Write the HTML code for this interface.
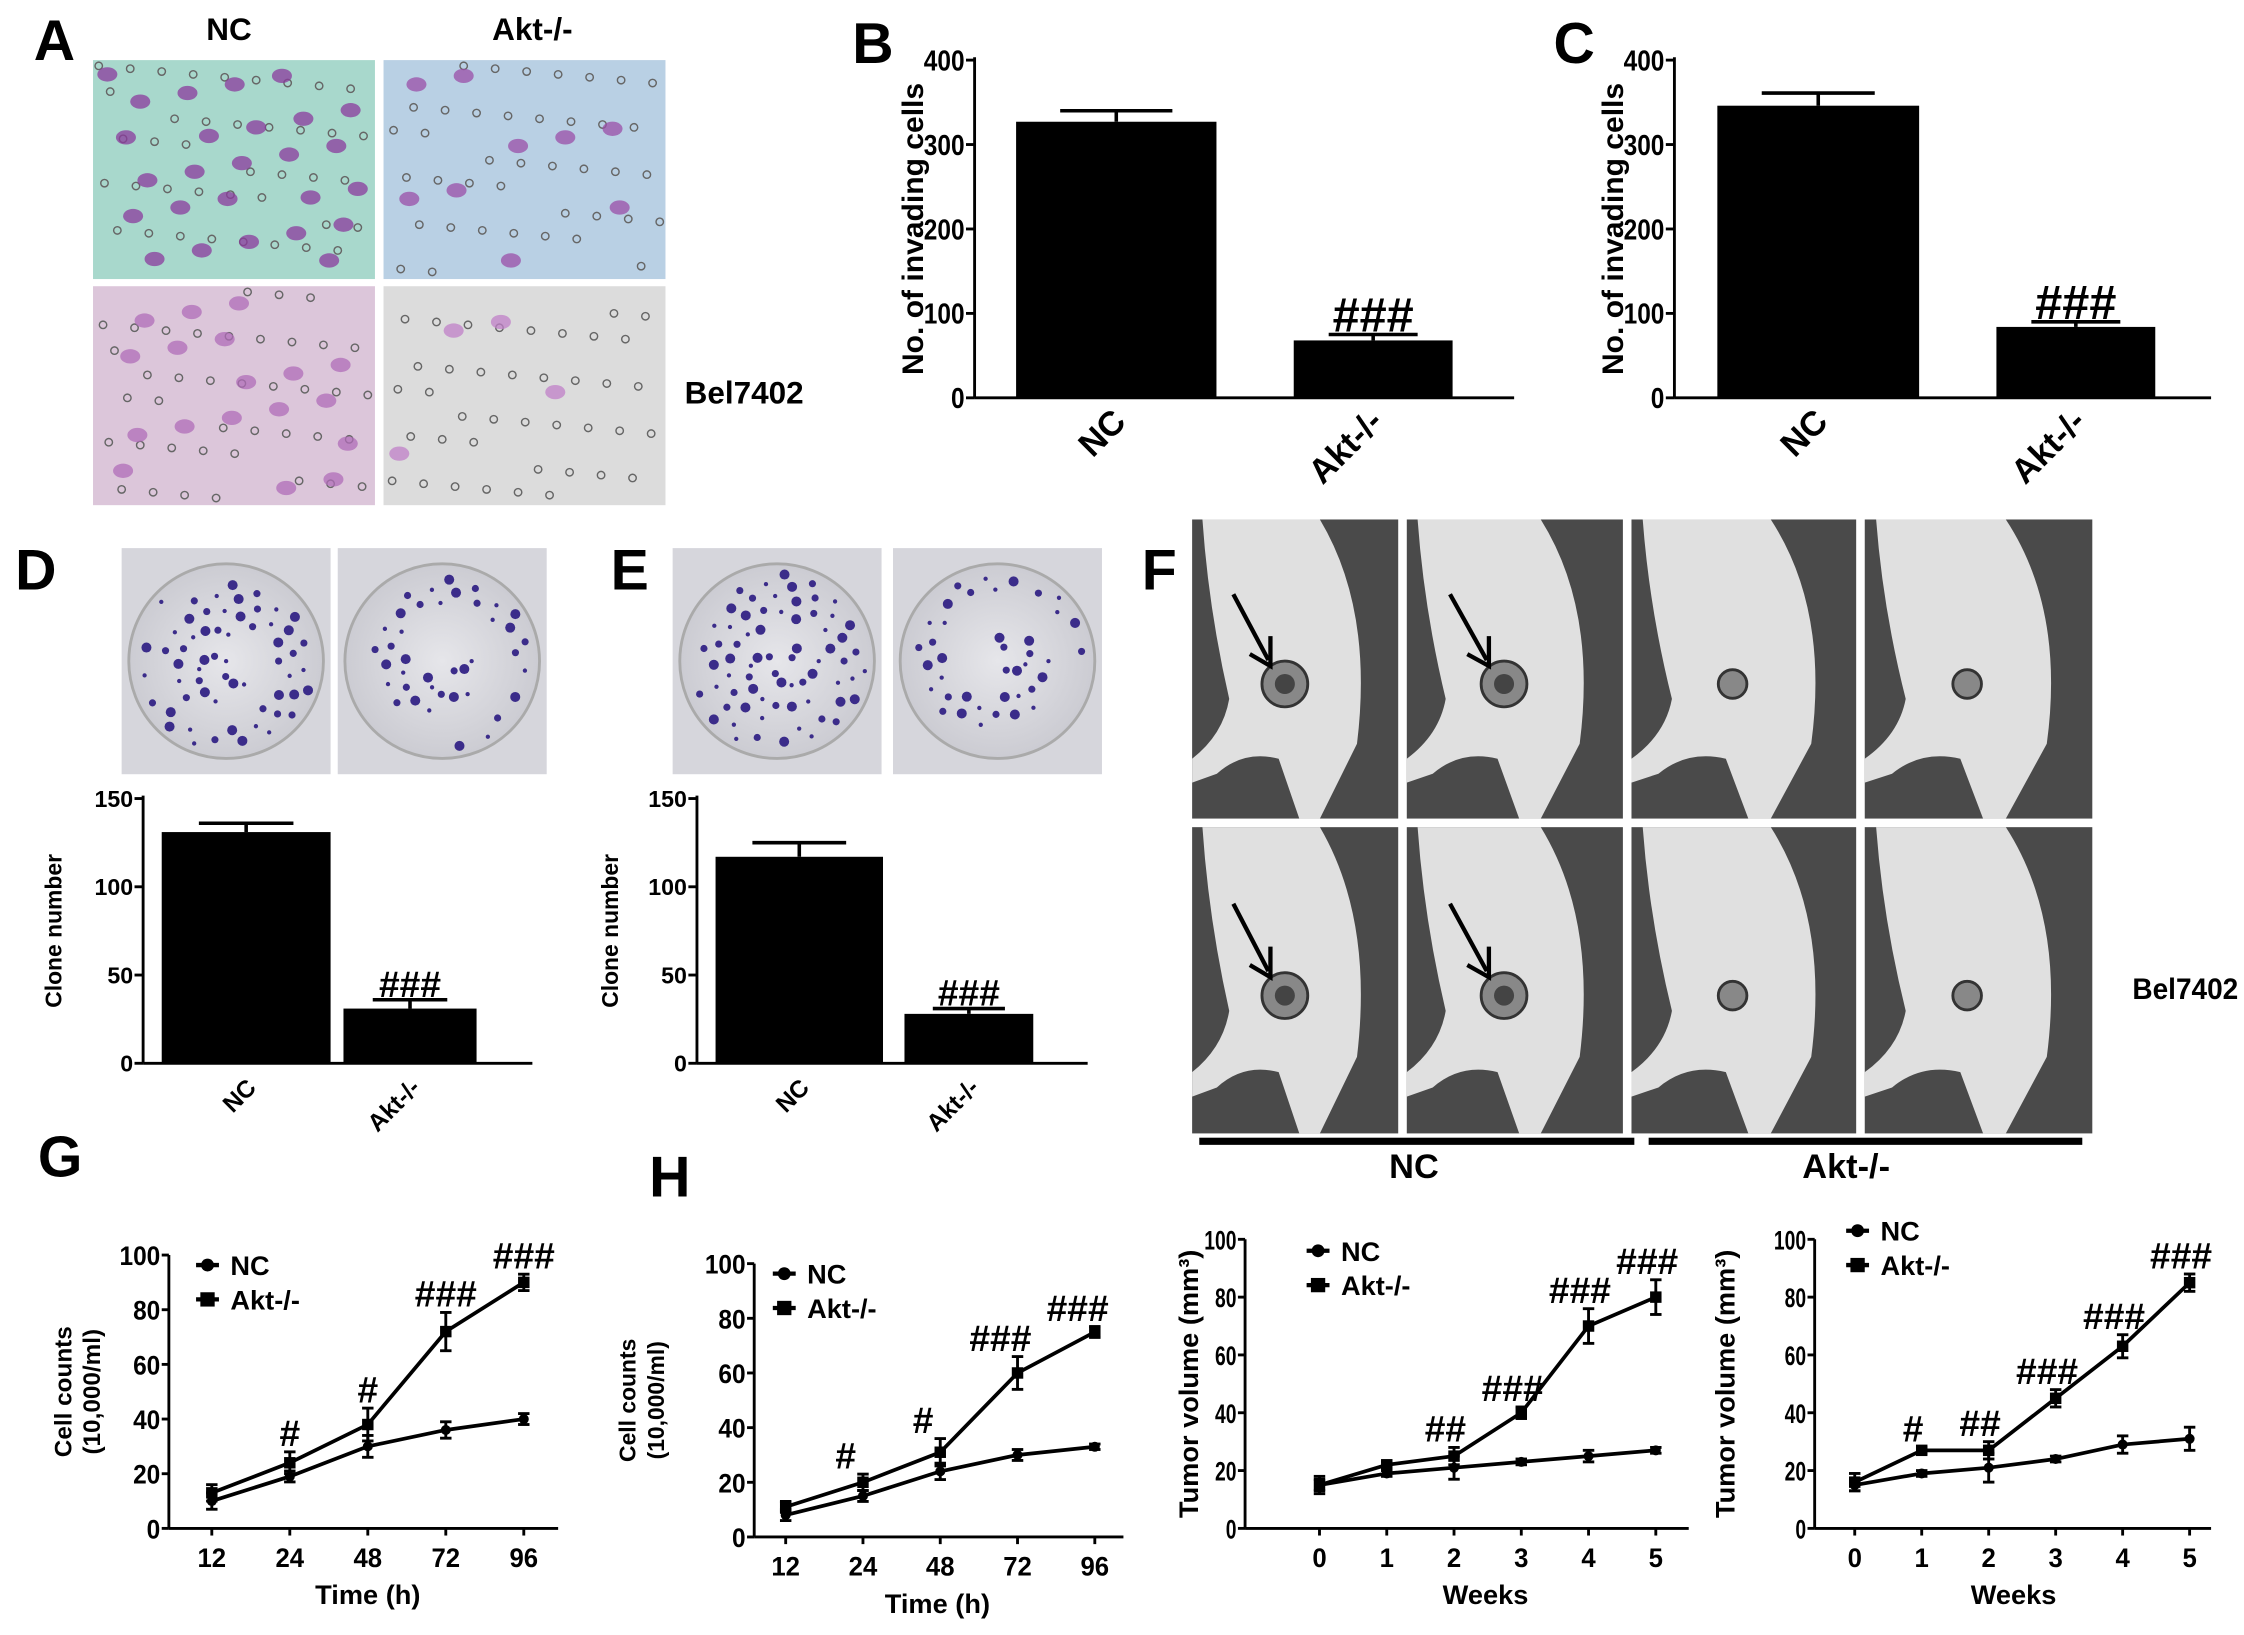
<!DOCTYPE html>
<html><head><meta charset="utf-8"><style>
html,body{margin:0;padding:0;background:#fff}
svg{display:block}
text{font-family:"Liberation Sans",Arial,sans-serif;font-weight:bold;fill:#000}
</style></head><body>
<svg id="fig" xmlns="http://www.w3.org/2000/svg" width="2244" height="1635" viewBox="0 0 1568 1142.5" preserveAspectRatio="none">
<defs>
<radialGradient id="dish" cx="50%" cy="50%" r="55%"><stop offset="0" stop-color="#e6e6ea"/><stop offset="1" stop-color="#c9c9d0"/></radialGradient>
</defs>
<g id="root"></g>
</svg>
<script>
// ===== Data =====
const barCats = ["NC", "Akt-/-"];
const bValues = [327, 68];
const bErrors = [13, 7];
const cValues = [346, 84];
const cErrors = [15, 6];
const dValues = [131, 31];
const dErrors = [5, 5];
const eValues = [117, 28];
const eErrors = [8, 3];
const invadeTicks = [0, 100, 200, 300, 400];
const cloneTicks = [0, 50, 100, 150];

const timeCats = ["12", "24", "48", "72", "96"];
const gUpper = [13, 24, 38, 72, 90];
const gUpperErr = [3, 4, 6, 7, 3];
const gLower = [10, 19, 30, 36, 40];
const gLowerErr = [3, 2, 4, 3, 2];
const gMarks = ["", "#", "#", "###", "###"];
const hUpper = [11, 20, 31, 60, 75];
const hUpperErr = [2, 3, 5, 6, 2];
const hLower = [8, 15, 24, 30, 33];
const hLowerErr = [2, 2, 3, 2, 1];
const hMarks = ["", "#", "#", "###", "###"];
const weekCats = ["0", "1", "2", "3", "4", "5"];
const t1Upper = [15, 22, 25, 40, 70, 80];
const t1UpperErr = [3, 1, 3, 2, 6, 6];
const t1Lower = [15, 19, 21, 23, 25, 27];
const t1LowerErr = [2, 1, 4, 1, 2, 1];
const t1Marks = ["", "", "##", "###", "###", "###"];
const t2Upper = [16, 27, 27, 45, 63, 85];
const t2UpperErr = [3, 1, 3, 3, 4, 3];
const t2Lower = [15, 19, 21, 24, 29, 31];
const t2LowerErr = [2, 1, 5, 1, 3, 4];
const t2Marks = ["", "#", "##", "###", "###", "###"];
const countTicks = [0, 20, 40, 60, 80, 100];

// ===== helpers =====
const NS = "http://www.w3.org/2000/svg";
const root = document.getElementById("root");
function mk(tag, attrs, parent, txt) {
  const e = document.createElementNS(NS, tag);
  for (const k in attrs) e.setAttribute(k, attrs[k]);
  if (txt !== undefined) e.textContent = txt;
  (parent || root).appendChild(e);
  return e;
}
function label(x, y, t, size, name, extra) {
  const e = mk("text", Object.assign({x: x, y: y, "font-size": size, "text-anchor": "middle"}, extra || {}), root, t);
  
  
  return e;
}

// panel letters
[["A",38,42],["B",610,44],["C",1100,44],["D",25,412],["E",440,412],["F",810,412],["G",42,822],["H",468,836]].forEach(p => {
  label(p[1], p[2], p[0], 40, "panel-label-" + p[0].toLowerCase(), {"font-family": "DejaVu Sans, sans-serif"});
});

// ===== Bar charts =====
function barChart(o) {
  const g = mk("g", {});
  
  
  const y = v => o.y0 - (v / o.max) * (o.y0 - o.yTop);
  mk("line", {x1: o.ax, y1: o.yTop - 2, x2: o.ax, y2: o.y0, stroke: "#000", "stroke-width": 2}, g);
  mk("line", {x1: o.ax, y1: o.y0, x2: o.xEnd, y2: o.y0, stroke: "#000", "stroke-width": 2}, g);
  o.ticks.forEach(t => {
    mk("line", {x1: o.ax - 6, y1: y(t), x2: o.ax, y2: y(t), stroke: "#000", "stroke-width": 2}, g);
    const tl = mk("text", {x: o.ax - 7, y: y(t) + o.fs * 0.36, "font-size": o.fs, "text-anchor": "end", textLength: String(t).length * o.cw, lengthAdjust: "spacingAndGlyphs"}, g, t);
    
    
  });
  o.values.forEach((v, i) => {
    const [x1, x2] = o.bars[i];
    const b = mk("rect", {x: x1, y: y(v), width: x2 - x1, height: o.y0 - y(v), fill: "#000"}, g);
    
    
    const cx = (x1 + x2) / 2, w = (x2 - x1) * 0.28;
    mk("line", {x1: cx, y1: y(v), x2: cx, y2: y(v + o.errs[i]), stroke: "#000", "stroke-width": 2.5}, g);
    mk("line", {x1: cx - w, y1: y(v + o.errs[i]), x2: cx + w, y2: y(v + o.errs[i]), stroke: "#000", "stroke-width": 2.5}, g);
    const xl = mk("text", {x: 0, y: 0, "font-size": o.xfs, "text-anchor": "end", transform: `translate(${cx + 8},${o.y0 + 18}) rotate(-45)`}, g, barCats[i]);
    
    
  });
  const cx2 = (o.bars[1][0] + o.bars[1][1]) / 2;
  const hm = mk("text", {x: cx2, y: y(o.values[1] + o.errs[1]) - 2, "font-size": o.hfs, "text-anchor": "middle", "font-family": "Liberation Serif, serif", "font-weight": "normal"}, g, "###");
  
  
  const yl = mk("text", {x: 0, y: 0, "font-size": o.yfs, "text-anchor": "middle", transform: `translate(${o.ylx},${(o.yTop + o.y0) / 2}) rotate(-90)`}, g, o.ytitle);
  
  
}
barChart({name: "chart-b", ax: 681, y0: 278, yTop: 42, max: 400, xEnd: 1058, ticks: invadeTicks, values: bValues, errs: bErrors, bars: [[710, 850], [904, 1015]], fs: 20, cw: 9.5, xfs: 24, hfs: 34, yfs: 21, ylx: 645, ytitle: "No. of invading cells"});
barChart({name: "chart-c", ax: 1170, y0: 278, yTop: 42, max: 400, xEnd: 1545, ticks: invadeTicks, values: cValues, errs: cErrors, bars: [[1200, 1341], [1395, 1506]], fs: 20, cw: 9.5, xfs: 24, hfs: 34, yfs: 21, ylx: 1134, ytitle: "No. of invading cells"});
barChart({name: "chart-d", ax: 100, y0: 743, yTop: 558, max: 150, xEnd: 372, ticks: cloneTicks, values: dValues, errs: dErrors, bars: [[113, 231], [240, 333]], fs: 16, cw: 9, xfs: 17, hfs: 26, yfs: 16, ylx: 43, ytitle: "Clone number"});
barChart({name: "chart-e", ax: 487, y0: 743, yTop: 558, max: 150, xEnd: 760, ticks: cloneTicks, values: eValues, errs: eErrors, bars: [[500, 617], [632, 722]], fs: 16, cw: 9, xfs: 17, hfs: 26, yfs: 16, ylx: 432, ytitle: "Clone number"});

// ===== Line charts =====
function lineChart(o) {
  const g = mk("g", {});
  
  
  const y = v => o.y0 - (v / 100) * (o.y0 - o.yTop);
  const x = i => o.xs0 + i * o.dx;
  mk("line", {x1: o.ax, y1: o.yTop, x2: o.ax, y2: o.y0, stroke: "#000", "stroke-width": 2}, g);
  mk("line", {x1: o.ax, y1: o.y0, x2: o.xEnd, y2: o.y0, stroke: "#000", "stroke-width": 2}, g);
  countTicks.forEach(t => {
    mk("line", {x1: o.ax - 5, y1: y(t), x2: o.ax, y2: y(t), stroke: "#000", "stroke-width": 2}, g);
    const tl = mk("text", {x: o.ax - 6, y: y(t) + 7, "font-size": 19, "text-anchor": "end", "textLength": String(t).length * (o.tcw || 9.5), lengthAdjust: "spacingAndGlyphs"}, g, t);
    
    
  });
  o.cats.forEach((c, i) => {
    mk("line", {x1: x(i), y1: o.y0, x2: x(i), y2: o.y0 + 5, stroke: "#000", "stroke-width": 2}, g);
    const tl = mk("text", {x: x(i), y: o.y0 + 27, "font-size": 19, "text-anchor": "middle", "textLength": c.length * 10, lengthAdjust: "spacingAndGlyphs"}, g, c);
    
    
  });
  [[o.lower, o.lowerErr, "circle", "series-nc"], [o.upper, o.upperErr, "square", "series-akt"]].forEach(s => {
    const pts = s[0].map((v, i) => x(i) + "," + y(v)).join(" ");
    const pl = mk("polyline", {points: pts, fill: "none", stroke: "#000", "stroke-width": 2.6}, g);
    
    
    s[0].forEach((v, i) => {
      const e = s[1][i];
      mk("line", {x1: x(i), y1: y(v - e), x2: x(i), y2: y(v + e), stroke: "#000", "stroke-width": 2}, g);
      mk("line", {x1: x(i) - 4, y1: y(v - e), x2: x(i) + 4, y2: y(v - e), stroke: "#000", "stroke-width": 2}, g);
      mk("line", {x1: x(i) - 4, y1: y(v + e), x2: x(i) + 4, y2: y(v + e), stroke: "#000", "stroke-width": 2}, g);
      const m = s[2] === "circle" ? mk("circle", {cx: x(i), cy: y(v), r: 3.5, fill: "#000"}, g)
                                  : mk("rect", {x: x(i) - 4, y: y(v) - 4, width: 8, height: 8, fill: "#000"}, g);
      
      
    });
  });
  o.marks.forEach((t, i) => {
    if (!t) return;
    const hm = mk("text", {x: x(i) - (o.markShift || 0), y: y(o.upper[i] + o.upperErr[i]) - 4, "font-size": 26, "text-anchor": "middle", "font-family": "Liberation Serif, serif", "font-weight": "normal"}, g, t);
    
    
  });
  [["NC", "circle"], ["Akt-/-", "square"]].forEach((l, k) => {
    const ly = o.legY + k * 24;
    mk("line", {x1: o.legX, y1: ly, x2: o.legX + 16, y2: ly, stroke: "#000", "stroke-width": 3}, g);
    if (l[1] === "circle") mk("circle", {cx: o.legX + 8, cy: ly, r: 4.5, fill: "#000"}, g);
    else mk("rect", {x: o.legX + 3, y: ly - 5, width: 10, height: 10, fill: "#000"}, g);
    const lt = mk("text", {x: o.legX + 24, y: ly + 7, "font-size": 19, "font-weight": "normal"}, g, l[0]);
    
    
  });
  const xt = mk("text", {x: o.xtX, y: o.y0 + 53, "font-size": 19, "text-anchor": "middle", "font-weight": "normal"}, g, o.xtitle);
  
  
  o.ytitle.forEach((t, k) => {
    const yt = mk("text", {x: 0, y: 0, "font-size": o.ytfs, "text-anchor": "middle", transform: `translate(${o.ytX + k * 20},${(o.yTop + o.y0) / 2}) rotate(-90)`}, g, t);
    
    
  });
}
lineChart({name: "chart-g", ax: 118, y0: 1068, yTop: 877, xEnd: 390, xs0: 148, dx: 54.5, cats: timeCats, upper: gUpper, upperErr: gUpperErr, lower: gLower, lowerErr: gLowerErr, marks: gMarks, legX: 137, legY: 884, xtX: 257, xtitle: "Time (h)", ytitle: ["Cell counts", "(10,000/ml)"], ytX: 50, ytfs: 17});
lineChart({name: "chart-h", ax: 527, y0: 1074, yTop: 883, xEnd: 785, xs0: 549, dx: 54, cats: timeCats, upper: hUpper, upperErr: hUpperErr, lower: hLower, lowerErr: hLowerErr, marks: hMarks, markShift: 12, legX: 540, legY: 890, xtX: 655, xtitle: "Time (h)", ytitle: ["Cell counts", "(10,000/ml)"], ytX: 444, ytfs: 16});
lineChart({name: "chart-tumor-1", ax: 870, y0: 1068, yTop: 866, xEnd: 1180, xs0: 922, dx: 47, cats: weekCats, upper: t1Upper, upperErr: t1UpperErr, lower: t1Lower, lowerErr: t1LowerErr, marks: t1Marks, markShift: 6, tcw: 7.5, legX: 913, legY: 874, xtX: 1038, xtitle: "Weeks", ytitle: ["Tumor volume (mm³)"], ytX: 837, ytfs: 19});
lineChart({name: "chart-tumor-2", ax: 1268, y0: 1068, yTop: 866, xEnd: 1545, xs0: 1296, dx: 46.8, cats: weekCats, upper: t2Upper, upperErr: t2UpperErr, lower: t2Lower, lowerErr: t2LowerErr, marks: t2Marks, markShift: 6, tcw: 7.5, legX: 1290, legY: 860, xtX: 1407, xtitle: "Weeks", ytitle: ["Tumor volume (mm³)"], ytX: 1212, ytfs: 19});

// ===== Panel A micrographs (decorative) =====
const micro = [[65, 42, "#a8d8cc", "#8b3b9e"], [268, 42, "#b9d0e4", "#9b4fa8"], [65, 200, "#dcc6da", "#b06cb8"], [268, 200, "#dcdcdc", "#c080c8"]];
const blobCounts = [26, 9, 18, 4];
micro.forEach((m, k) => {
  const r = mk("rect", {x: m[0], y: m[1], width: 197, height: 153, fill: m[2]});
  
  
  for (let i = 0; i < 40; i++) {
    const px = m[0] + ((i * 53 + k * 17) % 190) + 4, py = m[1] + ((i * 37 + k * 29) % 146) + 4;
    mk("circle", {cx: px, cy: py, r: 2.6, fill: "none", stroke: "#666", "stroke-width": 1});
  }
  for (let i = 0; i < blobCounts[k]; i++) {
    const px = m[0] + ((i * 71 + k * 13) % 180) + 10, py = m[1] + ((i * 43 + k * 7) % 135) + 10;
    mk("ellipse", {cx: px, cy: py, rx: 7, ry: 5, fill: m[3], opacity: 0.75});
  }
});
label(160, 28, "NC", 22, "column-label-nc");
label(372, 28, "Akt-/-", 22, "column-label-akt");
label(520, 282, "Bel7402", 22, "cell-line-label");

// ===== Dishes D/E =====
const dishes = [[85, 383, 60], [236, 383, 40], [470, 383, 70], [624, 383, 40]];
dishes.forEach((d, k) => {
  const bg = mk("rect", {x: d[0], y: d[1], width: 146, height: 158, fill: "#d6d6dc"});
  
  
  mk("circle", {cx: d[0] + 73, cy: d[1] + 79, r: 68, fill: "url(#dish)", stroke: "#aaa", "stroke-width": 2});
  for (let i = 0; i < d[2]; i++) {
    const a = i * 2.399, rr = 62 * Math.sqrt(((i * 37 + k * 11) % 100) / 100);
    mk("circle", {cx: d[0] + 73 + rr * Math.cos(a), cy: d[1] + 79 + rr * Math.sin(a), r: 1.5 + (i % 3), fill: "#3b2c8a"});
  }
});

// ===== Panel F mice (decorative) =====
const cols = [[833, 977], [983, 1134], [1140, 1297], [1303, 1462]];
const rows = [[363, 572], [578, 792]];
rows.forEach((rw, ri) => cols.forEach((c, ci) => {
  const w = c[1] - c[0], h = rw[1] - rw[0];
  const bg = mk("rect", {x: c[0], y: rw[0], width: w, height: h, fill: "#4a4a4a"});
  
  
  const X = f => c[0] + f * w, Y = f => rw[0] + f * h;
  mk("path", {d: `M${X(0.05)},${Y(0)} L${X(0.62)},${Y(0)} Q${X(0.88)},${Y(0.3)} ${X(0.8)},${Y(0.75)} L${X(0.62)},${Y(1)} L${X(0.52)},${Y(1)} L${X(0.42)},${Y(0.8)} Q${X(0.25)},${Y(0.77)} ${X(0.12)},${Y(0.85)} L${X(0)},${Y(0.88)} L${X(0)},${Y(0.8)} Q${X(0.15)},${Y(0.72)} ${X(0.18)},${Y(0.6)} Q${X(0.08)},${Y(0.3)} ${X(0.05)},${Y(0)} Z`, fill: "#e0e0e0"});
  const big = ci < 2;
  mk("circle", {cx: X(0.45), cy: Y(0.55), r: big ? 16 : 10, fill: "#888", stroke: "#333", "stroke-width": 2});
  if (big) {
    mk("circle", {cx: X(0.45), cy: Y(0.55), r: 7, fill: "#444"});
    mk("line", {x1: X(0.2), y1: Y(0.25), x2: X(0.37), y2: Y(0.47), stroke: "#000", "stroke-width": 3});
    mk("polyline", {points: `${X(0.28)},${Y(0.45)} ${X(0.38)},${Y(0.49)} ${X(0.38)},${Y(0.39)}`, fill: "none", stroke: "#000", "stroke-width": 3});
  }
}));
const nb = mk("rect", {x: 838, y: 795, width: 304, height: 5, fill: "#000"});
 
const ab = mk("rect", {x: 1152, y: 795, width: 303, height: 5, fill: "#000"});
 
label(988, 823, "NC", 24, "group-label-nc", {"font-weight": "normal"});
label(1290, 823, "Akt-/-", 24, "group-label-akt", {"font-weight": "normal"});
label(1527, 698, "Bel7402", 21, "cell-line-label-f", {textLength: 74, lengthAdjust: "spacingAndGlyphs"});
</script>
</body></html>
